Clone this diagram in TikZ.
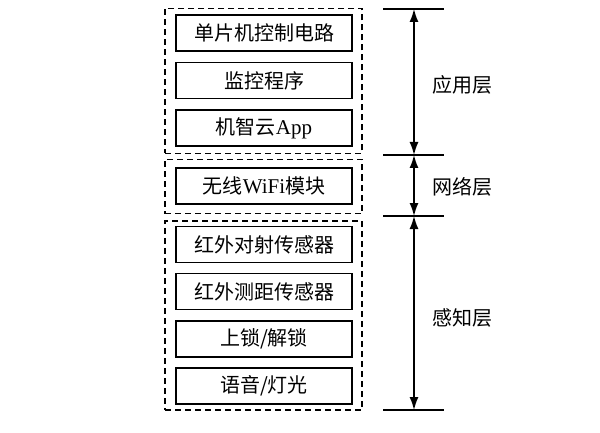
\documentclass[tikz,border=0pt]{standalone}
\usepackage{fontspec}
\setmainfont{Liberation Serif}
\newfontfamily\cjk{Noto Sans CJK SC}
\usetikzlibrary{arrows.meta}
\tikzset{
  item/.style={draw, line width=1.4pt, minimum width=176pt, minimum height=36pt, inner sep=0pt, font=\fontsize{20}{22}\selectfont\cjk},
  group/.style={draw, dashed, dash pattern=on 6pt off 4pt, line width=1.3pt, minimum width=197pt, inner sep=0pt},
  tick/.style={line width=1.2pt},
  dim/.style={line width=1.5pt, {Latex[length=13pt,width=9pt]}-{Latex[length=13pt,width=9pt]}},
  lab/.style={font=\fontsize{20}{22}\selectfont\cjk}
}
\begin{document}
\begin{tikzpicture}[x=1pt,y=-1pt]
\useasboundingbox (0,0) rectangle (600,433);
% groups
\node[group, minimum height=145pt] (g1) at (263.5,81) {};
\node[group, minimum height=54pt] (g2) at (263.5,186.5) {};
\node[group, minimum height=189pt] (g3) at (263.5,315.5) {};
% items
\node[item] (b1) at (264,33) {单片机控制电路};
\node[item] (b2) at (264,80.5) {监控程序};
\node[item] (b3) at (264,128) {机智云{\rmfamily\fontsize{21}{22}\selectfont App}};
\node[item] (b4) at (264,186) {无线{\rmfamily\fontsize{21}{22}\selectfont WiFi}模块};
\node[item] (b5) at (264,244.5) {红外对射传感器};
\node[item] (b6) at (264,291.5) {红外测距传感器};
\node[item] (b7) at (264,339) {上锁/解锁};
\node[item] (b8) at (264,386) {语音/灯光};
% ticks
\coordinate (t1) at (414,9);
\coordinate (t2) at (414,155);
\coordinate (t3) at (414,216);
\coordinate (t4) at (414,410);
\foreach \t in {t1,t2,t3,t4}{
  \draw[tick] ([xshift=-31pt]\t) -- ([xshift=30pt]\t);
}
\draw[dim] (t1) -- (t2);
\draw[dim] (t2) -- (t3);
\draw[dim] (t3) -- (t4);
% labels
\node[lab] (l1) at (462,85) {应用层};
\node[lab] (l2) at (462,187) {网络层};
\node[lab] (l3) at (462,318) {感知层};
\end{tikzpicture}
\end{document}
